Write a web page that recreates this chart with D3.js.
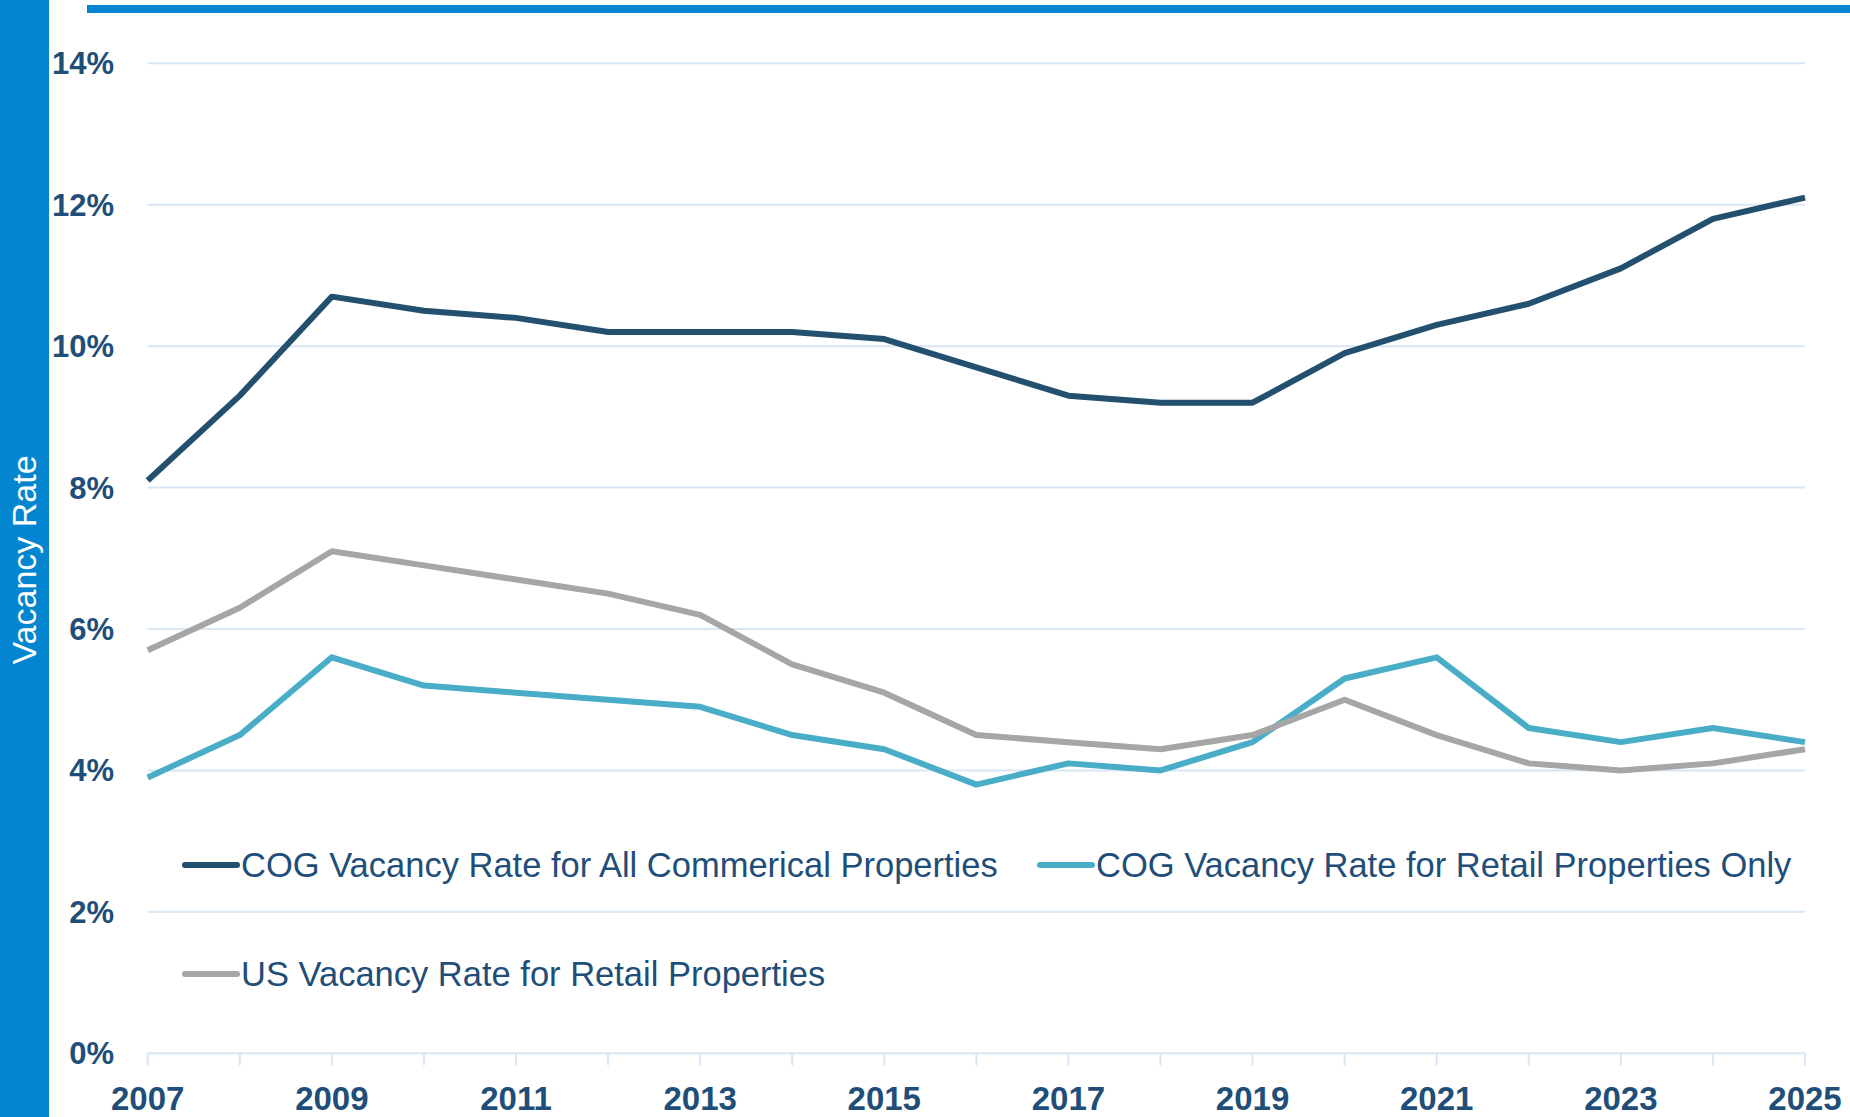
<!DOCTYPE html>
<html>
<head>
<meta charset="utf-8">
<script src="https://cdn.jsdelivr.net/npm/d3@7"></script>
<style>
  body { margin: 0; background: #fff; }
  text { font-family: "Liberation Sans", Arial, sans-serif; }
</style>
</head>
<body>
<div id="chart"></div>
<script>
// data
var years = [2007,2008,2009,2010,2011,2012,2013,2014,2015,2016,2017,2018,2019,2020,2021,2022,2023,2024,2025];
var cogAll    = [8.1,9.3,10.7,10.5,10.4,10.2,10.2,10.2,10.1,9.7,9.3,9.2,9.2,9.9,10.3,10.6,11.1,11.8,12.1];
var cogRetail = [3.9,4.5,5.6,5.2,5.1,5.0,4.9,4.5,4.3,3.8,4.1,4.0,4.4,5.3,5.6,4.6,4.4,4.6,4.4];
var usRetail  = [5.7,6.3,7.1,6.9,6.7,6.5,6.2,5.5,5.1,4.5,4.4,4.3,4.5,5.0,4.5,4.1,4.0,4.1,4.3];
var seriesNames = ["COG Vacancy Rate for All Commerical Properties", "COG Vacancy Rate for Retail Properties Only", "US Vacancy Rate for Retail Properties"];
var yTicks = [0,2,4,6,8,10,12,14];
var xLabels = [2007,2009,2011,2013,2015,2017,2019,2021,2023,2025];

var W = 1850, H = 1117;
var blue = "#0386cf", textCol = "#1f4e79", gridCol = "#d9e6f4";
var colors = ["#23506f", "#4aadc7", "#a6a6a6"];

var svg = d3.select("#chart").append("svg")
    .attr("width", W)
    .attr("height", H);

// blue side band and top rule
svg.append("rect").attr("x", 0).attr("y", 0).attr("width", 49).attr("height", H).attr("fill", blue);
svg.append("rect").attr("x", 87).attr("y", 5).attr("width", W - 87).attr("height", 8).attr("fill", blue);

svg.append("text")
    .attr("transform", "translate(36,560) rotate(-90)")
    .attr("text-anchor", "middle")
    .attr("fill", "#fff")
    .style("font-size", "34px")
    .text("Vacancy Rate");

var x = d3.scaleLinear().domain([2007, 2025]).range([147.7, 1805]);
var y = d3.scaleLinear().domain([0, 14]).range([1053.3, 63.3]);

// gridlines
svg.append("g")
  .selectAll("line")
  .data(yTicks)
  .enter()
  .append("line")
    .attr("x1", x(2007)).attr("x2", x(2025))
    .attr("y1", function(d){ return y(d) }).attr("y2", function(d){ return y(d) })
    .attr("stroke", gridCol)
    .attr("stroke-width", 2);

// x tick marks every year
svg.append("g")
  .selectAll("line")
  .data(years)
  .enter()
  .append("line")
    .attr("x1", function(d){ return x(d) }).attr("x2", function(d){ return x(d) })
    .attr("y1", y(0)).attr("y2", y(0) + 12)
    .attr("stroke", gridCol)
    .attr("stroke-width", 2);

// y labels
svg.append("g")
  .selectAll("text")
  .data(yTicks)
  .enter()
  .append("text")
    .attr("x", 114)
    .attr("y", function(d){ return y(d) + 11 })
    .attr("text-anchor", "end")
    .attr("fill", textCol)
    .style("font-size", "31px")
    .style("font-weight", "bold")
    .text(function(d){ return d + "%" });

// x labels
svg.append("g")
  .selectAll("text")
  .data(xLabels)
  .enter()
  .append("text")
    .attr("x", function(d){ return x(d) })
    .attr("y", 1110)
    .attr("text-anchor", "middle")
    .attr("fill", textCol)
    .style("font-size", "33px")
    .style("font-weight", "bold")
    .text(function(d){ return d });

var line = d3.line()
    .x(function(d, i){ return x(years[i]) })
    .y(function(d){ return y(d) });

[cogAll, cogRetail, usRetail].forEach(function(s, i) {
  svg.append("path")
    .datum(s)
    .attr("d", line)
    .attr("fill", "none")
    .attr("stroke", colors[i])
    .attr("stroke-width", 6)
    .attr("stroke-linejoin", "round");
});

// legend
var legendPos = [[182, 865], [1037, 865], [182, 974]];
var leg = svg.append("g")
  .selectAll("g")
  .data(seriesNames)
  .enter()
  .append("g")
    .attr("transform", function(d, i){ return "translate(" + legendPos[i][0] + "," + legendPos[i][1] + ")" });

leg.append("line")
    .attr("x1", 3).attr("x2", 55)
    .attr("stroke", function(d, i){ return colors[i] })
    .attr("stroke-width", 6)
    .attr("stroke-linecap", "round");

leg.append("text")
    .attr("x", 59)
    .attr("y", 12)
    .attr("fill", textCol)
    .style("font-size", "34.5px")
    .text(function(d){ return d });
</script>
</body>
</html>
